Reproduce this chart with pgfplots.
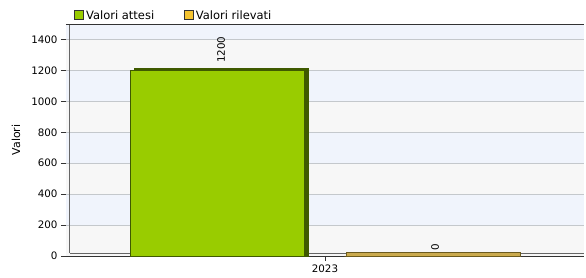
\documentclass[border=0pt]{standalone}
\usepackage{pgfplots}
\pgfplotsset{compat=1.18}
\usepackage{fontspec}
\setmainfont{DejaVu Sans}
\definecolor{gfill}{HTML}{99CC00}
\definecolor{gdark}{HTML}{3F5A00}
\definecolor{ofill}{HTML}{F5C431}
\definecolor{otop}{HTML}{C9A94E}
\definecolor{odark}{HTML}{6B5A1E}
\definecolor{bandb}{HTML}{F0F4FC}
\definecolor{bandg}{HTML}{F7F7F7}
\definecolor{gridc}{HTML}{C4C8CC}
\begin{document}
\begin{tikzpicture}
\path[use as bounding box] (0pt,0pt) rectangle (586pt,278pt);
\begin{axis}[
  at={(66pt,22pt)}, anchor=south west,
  scale only axis, width=518pt, height=232pt,
  xmin=-1, xmax=1, ymin=0, ymax=1500,
  axis lines*=left,
  axis line style={draw=black!80, line width=0.8pt},
  ytick={0,200,...,1400},
  xtick={0}, xticklabels={2023},
  tick style={draw=black!80, line width=0.6pt},
  major tick length=5pt,
  tick align=outside,
  ticklabel style={font=\fontsize{10.3}{12}\selectfont},
  /pgf/number format/assume math mode=true,
  /pgf/number format/1000 sep={},
  ylabel={Valori},
  ylabel shift=4pt,
  ylabel style={font=\fontsize{11}{13}\selectfont},
  legend style={at={(0.014,1)}, anchor=south west,
    draw=none, fill=none, font=\fontsize{11.5}{13}\selectfont,
    legend columns=2, inner sep=1pt,
    /tikz/every even column/.append style={column sep=28pt}},
  legend image code/.code={\draw[#1, draw=black!80, line width=0.6pt] (0pt,-4pt) rectangle (9pt,5pt);},
  clip=false,
]
% background bands (decoration)
\fill[bandg] (axis cs:-1,0) rectangle (axis cs:1,200);
\fill[bandb] (axis cs:-1,200) rectangle (axis cs:1,400);
\fill[bandg] (axis cs:-1,400) rectangle (axis cs:1,600);
\fill[bandb] (axis cs:-1,600) rectangle (axis cs:1,800);
\fill[bandg] (axis cs:-1,800) rectangle (axis cs:1,1000);
\fill[bandb] (axis cs:-1,1000) rectangle (axis cs:1,1200);
\fill[bandg] (axis cs:-1,1200) rectangle (axis cs:1,1400);
\fill[bandb] (axis cs:-1,1400) rectangle (axis cs:1,1500);
\draw[gridc, line width=0.9pt] (axis cs:-1,200) -- (axis cs:1,200);
\draw[gridc, line width=0.9pt] (axis cs:-1,400) -- (axis cs:1,400);
\draw[gridc, line width=0.9pt] (axis cs:-1,600) -- (axis cs:1,600);
\draw[gridc, line width=0.9pt] (axis cs:-1,800) -- (axis cs:1,800);
\draw[gridc, line width=0.9pt] (axis cs:-1,1000) -- (axis cs:1,1000);
\draw[gridc, line width=0.9pt] (axis cs:-1,1200) -- (axis cs:1,1200);
\draw[gridc, line width=0.9pt] (axis cs:-1,1400) -- (axis cs:1,1400);
\draw[black!60, line width=0.6pt] (axis cs:-0.986,20) -- (axis cs:-0.986,1500);
\draw[black!60, line width=0.6pt] (axis cs:-0.986,20) -- (axis cs:1,20);
% 3D depth copies
\addplot[ybar, bar width=0.67, bar shift=-0.4015, fill=gdark, draw=gdark, forget plot]
  coordinates {(0,1217)};
\addplot[ybar, bar width=0.67, bar shift=0.418, fill=otop, draw=odark, line width=0.7pt, forget plot]
  coordinates {(0,24)};
% front bars
\addplot[ybar, bar width=0.67, bar shift=-0.415, fill=gfill, draw=gdark, line width=0.8pt,
  nodes near coords, nodes near coords style={font=\fontsize{10.3}{12}\selectfont, xshift=-104pt, rotate=90, anchor=west, xshift=4pt}]
  coordinates {(0,1200)};
\addlegendentry{Valori attesi}
\addplot[ybar, bar width=0.67, bar shift=0.41, fill=ofill, draw=odark, line width=0.7pt,
  nodes near coords, nodes near coords style={font=\fontsize{10.3}{12}\selectfont, xshift=110pt, rotate=90, anchor=west, xshift=2pt}]
  coordinates {(0,0)};
\addlegendentry{Valori rilevati}
\draw[black!80, line width=0.8pt] (axis cs:-1,1500) -- (axis cs:1,1500);
\end{axis}
\end{tikzpicture}
\end{document}
